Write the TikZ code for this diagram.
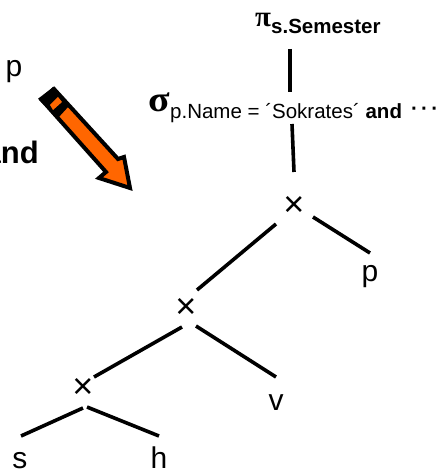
\documentclass[tikz,border=0pt]{standalone}
\usepackage{fontspec}
\setmainfont{Liberation Sans}
\newfontfamily\greekfont{Liberation Serif}
\definecolor{penorange}{HTML}{FF6600}
\tikzset{
  x = 1pt,
  y = -1pt,
  leaf/.style = {inner sep = 0pt, anchor = base, font = \fontsize{30}{30}\selectfont},
  cross/.style = {inner sep = 0pt, font = \fontsize{36}{36}\selectfont},
  label/.style = {inner sep = 0pt, anchor = base west, font = \fontsize{20.5}{20.5}\selectfont},
  link/.style = {line width = 3.6pt},
  pencil/.style = {draw = black, line width = 4pt, fill = penorange, miter limit = 6},
}
\begin{document}
\begin{tikzpicture}
    \useasboundingbox (0,0) rectangle (436,470);
    \node [label] (proj) at (255,34) {\makebox[16pt][l]{\raisebox{7pt}{\greekfont\bfseries\fontsize{29}{29}\selectfont π}}\textbf{s.Semester}};
    \node [label] (sel) at (148,119) {\makebox[22pt][l]{\raisebox{7pt}{\scalebox{1.1}[1]{\greekfont\bfseries\fontsize{36}{36}\selectfont σ}}}p.Name = ´Sokrates´ \textbf{and}\hspace{9pt}\raisebox{3pt}{\textbf{·}\hspace{3.3pt}\textbf{·}\hspace{3.3pt}\textbf{·}}};
    \node [cross] (x1) at (294,206) {×};
    \node [cross] (x2) at (186,308) {×};
    \node [cross] (x3) at (83,388) {×};
    \node [leaf] (rp) at (370,281) {p};
    \node [leaf] (rv) at (276,410) {v};
    \node [leaf] (rs) at (20,468) {s};
    \node [leaf] (rh) at (159,468) {h};
    \node [leaf] (lp) at (14,77) {p};
    \node [inner sep = 0pt, anchor = base east, font = \fontsize{31}{31}\selectfont\bfseries] (land) at (39,164) {and};
    \draw [link] ([shift={(-4,-157)}]x1.center) -- ([shift={(-4,-114)}]x1.center);
    \draw [link] ([shift={(-2,-82)}]x1.center) -- ([shift={(0,-34)}]x1.center);
    \draw [link] ([shift={(-18,18)}]x1.center) -- ([shift={(11,-18)}]x2.center);
    \draw [link] ([shift={(19,11)}]x1.center) -- ([shift={(0,-28)}]rp.base);
    \draw [link] ([shift={(-4,19)}]x2.center) -- ([shift={(11,-11)}]x3.center);
    \draw [link] ([shift={(10,18)}]x2.center) -- ([shift={(0,-33)}]rv.base);
    \draw [link] ([shift={(0,20)}]x3.center) -- ([shift={(1,-32)}]rs.base);
    \draw [link] ([shift={(4,19)}]x3.center) -- ([shift={(0,-32)}]rh.base);
    \draw [pencil] (41,99) -- (54,89) -- (118,159) -- (124,157) -- (130,188) -- (99,178) -- (106,172) -- cycle;
    \fill [black] (39,100) -- (53,87) -- (69,106) -- (58,118) -- cycle;
    \fill [penorange] (50,105) -- (58,97) -- (62,102) -- (53,110) -- cycle;
  \end{tikzpicture}
\end{document}
